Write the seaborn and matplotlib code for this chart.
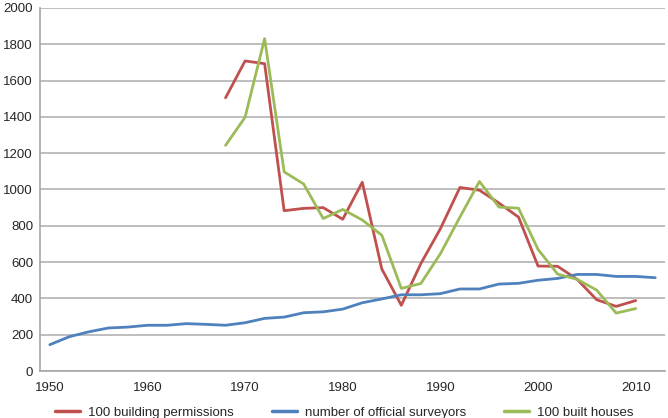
import numpy as np
import pandas as pd
import matplotlib
matplotlib.use("Agg")
import matplotlib.pyplot as plt
import seaborn as sns

years = list(range(1950, 2013, 2))

surveyors = [145, 189, 216, 237, 242, 252, 252, 261, 257, 252, 266, 290, 297, 321,
             326, 341, 376, 397, 420, 420, 426, 452, 452, 479, 483, 500, 510, 532,
             532, 521, 521, 514]

permission_years = list(range(1968, 2011, 2))
permissions = [1505, 1708, 1693, 883, 896, 900, 836, 1040, 562, 362, 592, 784,
               1011, 996, 925, 848, 578, 577, 505, 393, 356, 388]

houses_years = list(range(1968, 2011, 2))
houses = [1243, 1398, 1831, 1097, 1030, 840, 890, 832, 748, 455, 482, 646,
          848, 1044, 903, 897, 670, 534, 505, 446, 319, 344]

labels = ["100 building permissions", "number of official surveyors", "100 built houses"]
colors = ["#C0504D", "#4F81BD", "#9BBB59"]


def long_df():
    parts = [
        pd.DataFrame(dict(year=permission_years, value=permissions, series=labels[0])),
        pd.DataFrame(dict(year=years, value=surveyors, series=labels[1])),
        pd.DataFrame(dict(year=houses_years, value=houses, series=labels[2])),
    ]
    return pd.concat(parts, ignore_index=True)


sns.set_style("white")
plt.rcParams['font.family'] = ['Liberation Sans', 'DejaVu Sans']

fig = plt.figure(figsize=(6.68, 4.18), dpi=100)
ax = fig.add_axes([0.0599, 0.1124, 0.9356, 0.8686])

df = long_df()
sns.lineplot(data=df, x="year", y="value", hue="series", hue_order=labels,
             palette=colors, linewidth=2.0, ax=ax, legend=False)

ax.set_xlim(1949, 2013)
ax.set_ylim(0, 2000)
ax.set_yticks(range(0, 2001, 200))
ax.set_xticks(range(1950, 2011, 10))
ax.set_xticks(range(1949, 2014, 2), minor=True)
ax.tick_params(axis="x", which="major", length=0, pad=8, labelsize=9.5)
ax.tick_params(axis="x", which="minor", length=4, width=1, color="#a6a6a6", direction="out")
ax.tick_params(axis="y", length=3, width=1, color="#a6a6a6", labelsize=9.5, pad=2)
ax.grid(axis="y", color="#b3b3b3", linewidth=1.2)
ax.set_axisbelow(True)
ax.set_xlabel("")
ax.set_ylabel("")
for side in ["top", "right"]:
    ax.spines[side].set_visible(False)
for side in ["left", "bottom"]:
    ax.spines[side].set_color("#a6a6a6")
    ax.spines[side].set_linewidth(1.2)

handles = [plt.Line2D([], [], color=c, linewidth=2.5) for c in colors]
fig.legend(handles, labels, loc="lower center", bbox_to_anchor=(0.515, -0.03), ncol=3,
           frameon=False, fontsize=9.5, handlelength=1.9, handletextpad=0.6,
           columnspacing=2.9)

fig.savefig("out.png", dpi=100)
